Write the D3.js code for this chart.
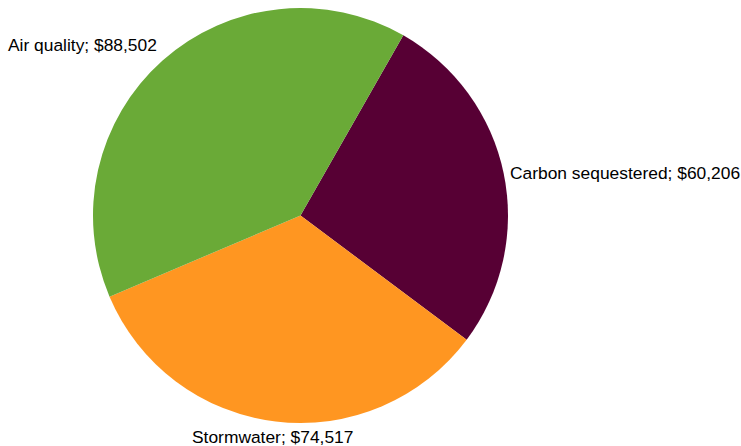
<!DOCTYPE html>
<html>
<head>
<meta charset="utf-8">
<script src="https://cdn.jsdelivr.net/npm/d3@7"></script>
<style>
html,body{margin:0;padding:0;background:#fff;}
svg{display:block;}
text{font-family:"Liberation Sans",Arial,sans-serif;font-size:17.4px;fill:#000;}
</style>
</head>
<body>
<svg id="chart" width="741" height="446"></svg>
<script>
const categories = ["Carbon sequestered", "Stormwater", "Air quality"];
const values = [60206, 74517, 88502];
const colors = ["#570034", "#ff9621", "#6aaa37"];
const labelPos = [ // label anchor positions (x, baseline y) in px
  [510, 179], [192, 443], [8, 51]
];

const svg = d3.select("#chart");
const cx = 300.5, cy = 215.5, r = 207.5;
const startDeg = 29.7;
const data = categories.map((c, i) => ({cat: c, value: values[i], color: colors[i], pos: labelPos[i]}));

const pie = d3.pie().sort(null).value(d => d.value)
  .startAngle(startDeg * Math.PI / 180)
  .endAngle((startDeg + 360) * Math.PI / 180);
const arc = d3.arc().innerRadius(0).outerRadius(r);

const g = svg.append("g").attr("transform", `translate(${cx},${cy})`);
g.selectAll("path").data(pie(data)).join("path")
  .attr("d", arc)
  .attr("fill", d => d.data.color);

const fmt = d3.format(",");
svg.selectAll("text.lbl").data(data).join("text")
  .attr("class", "lbl")
  .attr("x", d => d.pos[0])
  .attr("y", d => d.pos[1])
  .text(d => `${d.cat}; $${fmt(d.value)}`);
</script>
</body>
</html>
